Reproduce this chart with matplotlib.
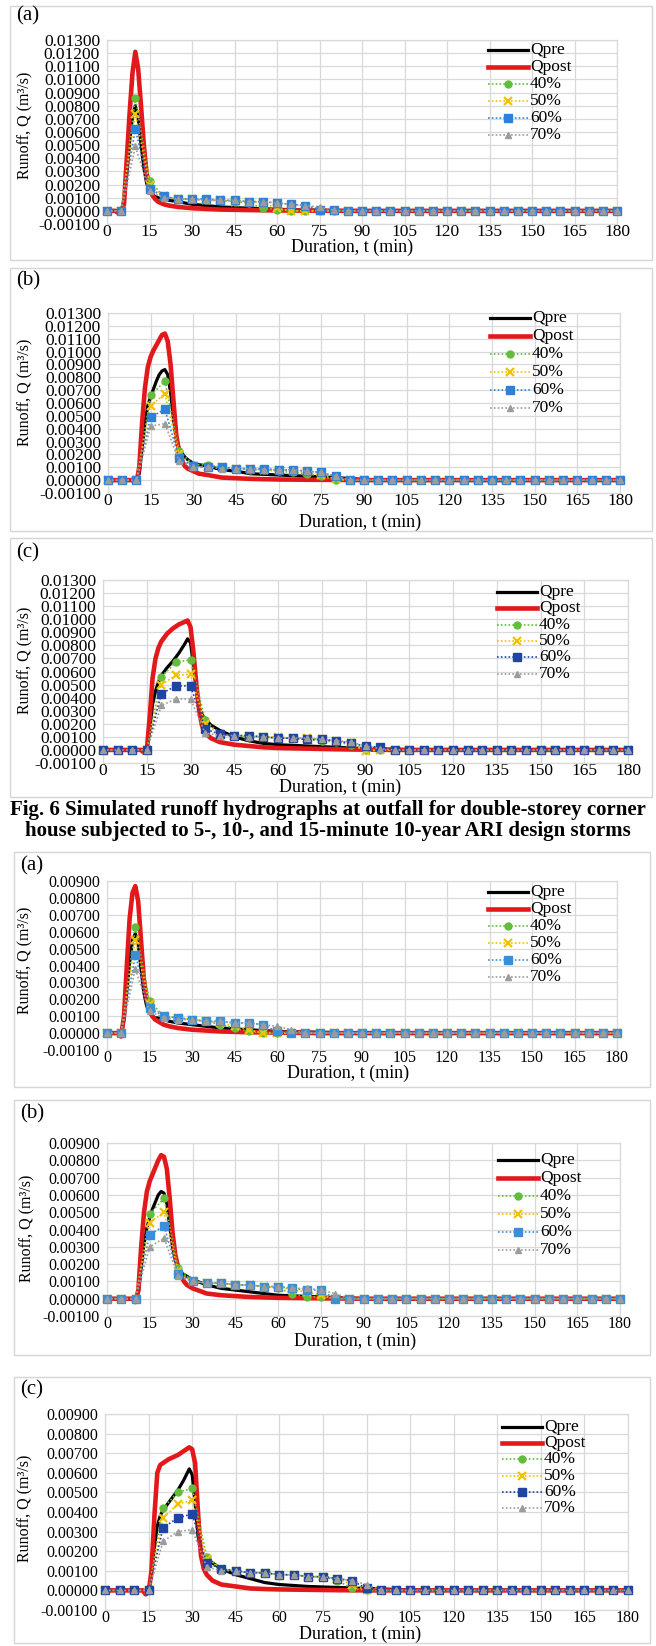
import matplotlib
matplotlib.use("Agg")
import matplotlib.pyplot as plt
from matplotlib.lines import Line2D
from matplotlib.patches import Rectangle

plt.rcParams["font.family"] = ["Liberation Serif", "DejaVu Serif"]

W, H = 656, 1646
RED = "#e3181b"
GRID = "#d9d9d9"

# marker times for the percentage series (every 5 min)
t5 = list(range(0, 181, 5))

# ---------------- Fig. 6 (a): 5-minute storm ----------------
ta_t = [0, 3, 4, 5, 6, 7, 8, 9, 10, 11, 12, 13, 14, 15, 16, 17, 18, 20, 22,
        25, 30, 35, 40, 45, 50, 60, 70, 80, 90, 120, 180]
ta_qpost = [0, 0, -0.0002, -0.0001, 0.0005, 0.0040, 0.0075, 0.0105, 0.0121,
            0.0108, 0.0080, 0.0050, 0.0028, 0.0017, 0.0012, 0.0009, 0.0007,
            0.0005, 0.0004, 0.0003, 0.0002, 0.00015, 0.0001, 0.00008, 0.00006,
            0.00003, 0.00002, 0.00001, 0, 0, 0]
ta_qpre = [0, 0, 0, 0, 0.0008, 0.0028, 0.0053, 0.0072, 0.0080, 0.0071, 0.0051,
           0.0033, 0.0021, 0.0015, 0.0012, 0.0011, 0.0010, 0.0009, 0.0008,
           0.0007, 0.0005, 0.0004, 0.0003, 0.00025, 0.0002, 0.00012, 0.00006,
           0.00003, 0.00001, 0, 0]
ta_p40 = [0, 0, 0.0086, 0.0023, 0.0011, 0.0009, 0.0009, 0.0008, 0.0008, 0.0007,
          0.0006, 0.0002, 0.0001, 0, 0, 0, 0, 0, 0,
          0, 0, 0, 0, 0, 0, 0, 0, 0, 0, 0, 0, 0, 0, 0, 0, 0, 0]
ta_p50 = [0, 0, 0.0074, 0.0020, 0.0011, 0.0009, 0.0009, 0.0008, 0.0008, 0.0007,
          0.0007, 0.0006, 0.0002, 0, 0, 0, 0, 0, 0,
          0, 0, 0, 0, 0, 0, 0, 0, 0, 0, 0, 0, 0, 0, 0, 0, 0, 0]
ta_p60 = [0, 0, 0.0062, 0.0017, 0.0011, 0.0009, 0.0009, 0.0009, 0.0008, 0.0008,
          0.0007, 0.0007, 0.0006, 0.0005, 0.0004, 0.0001, 0.00005, 0, 0,
          0, 0, 0, 0, 0, 0, 0, 0, 0, 0, 0, 0, 0, 0, 0, 0, 0, 0]
ta_p70 = [0, 0, 0.0049, 0.0015, 0.0010, 0.0009, 0.0009, 0.0008, 0.0008, 0.0008,
          0.0007, 0.0007, 0.0006, 0.0005, 0.0004, 0.0003, 0.00005, 0, 0,
          0, 0, 0, 0, 0, 0, 0, 0, 0, 0, 0, 0, 0, 0, 0, 0, 0, 0]

# ---------------- Fig. 6 (b): 10-minute storm ----------------
tb_t = [0, 9, 10, 11, 12, 13, 14, 15, 16, 17, 18, 19, 20, 21, 22, 23, 24, 25,
        26, 27, 28, 30, 32, 35, 40, 45, 50, 60, 70, 80, 90, 100, 180]
tb_qpost = [0, 0, -0.0002, 0.0010, 0.0045, 0.0072, 0.0088, 0.0096, 0.0101,
            0.0105, 0.0109, 0.0113, 0.0114, 0.0108, 0.0090, 0.0062, 0.0035,
            0.0022, 0.0015, 0.0011, 0.0009, 0.0007, 0.0005, 0.0004, 0.0002,
            0.00015, 0.0001, 0.00005, 0.00003, 0.00002, 0, 0, 0]
tb_qpre = [0, 0, 0, 0.0005, 0.0025, 0.0045, 0.0058, 0.0065, 0.0071, 0.0077,
           0.0082, 0.0085, 0.0086, 0.0082, 0.0068, 0.0048, 0.0032, 0.0025,
           0.0021, 0.0018, 0.0016, 0.0013, 0.0012, 0.0011, 0.0008, 0.0007,
           0.0005, 0.0004, 0.0003, 0.0002, 0.00005, 0, 0]
tb_p40 = [0, 0, 0, 0.0066, 0.0077, 0.0023, 0.0012, 0.0012, 0.0010, 0.0009,
          0.0008, 0.0008, 0.0007, 0.0006, 0.0005, 0.0003, 0, 0, 0,
          0, 0, 0, 0, 0, 0, 0, 0, 0, 0, 0, 0, 0, 0, 0, 0, 0, 0]
tb_p50 = [0, 0, 0, 0.0058, 0.0067, 0.0020, 0.0011, 0.0010, 0.0010, 0.0009,
          0.0009, 0.0008, 0.0008, 0.0007, 0.0006, 0.0004, 0.0001, 0, 0,
          0, 0, 0, 0, 0, 0, 0, 0, 0, 0, 0, 0, 0, 0, 0, 0, 0, 0]
tb_p60 = [0, 0, 0, 0.0049, 0.0055, 0.0017, 0.0011, 0.0010, 0.0010, 0.0009,
          0.0009, 0.0009, 0.0008, 0.0008, 0.0007, 0.0006, 0.0003, 0, 0,
          0, 0, 0, 0, 0, 0, 0, 0, 0, 0, 0, 0, 0, 0, 0, 0, 0, 0]
tb_p70 = [0, 0, 0, 0.0042, 0.0044, 0.0015, 0.0010, 0.0010, 0.0009, 0.0009,
          0.0009, 0.0008, 0.0008, 0.0008, 0.0007, 0.0006, 0.0003, 0, 0,
          0, 0, 0, 0, 0, 0, 0, 0, 0, 0, 0, 0, 0, 0, 0, 0, 0, 0]

# ---------------- Fig. 6 (c): 15-minute storm ----------------
tc_t = [0, 13, 14, 15, 16, 17, 18, 19, 20, 22, 24, 26, 28, 29, 30, 31, 32, 33,
        34, 35, 37, 40, 45, 50, 55, 60, 70, 80, 90, 100, 110, 180]
tc_qpost = [0, 0, -0.0002, -0.0001, 0.0025, 0.0055, 0.0070, 0.0078, 0.0083,
            0.0089, 0.0093, 0.0096, 0.0098, 0.0099, 0.0094, 0.0075, 0.0050,
            0.0030, 0.0018, 0.0013, 0.0009, 0.0006, 0.0004, 0.0003, 0.0002,
            0.00015, 0.0001, 0.00005, 0.00002, 0, 0, 0]
tc_qpre = [0, 0, 0, 0, 0.0015, 0.0035, 0.0045, 0.0052, 0.0057, 0.0063, 0.0068,
           0.0074, 0.0081, 0.0085, 0.0082, 0.0065, 0.0045, 0.0032, 0.0027,
           0.0024, 0.0019, 0.0015, 0.0010, 0.0007, 0.0005, 0.0004, 0.0003,
           0.0002, 0.0001, 0.00005, 0, 0]
tc_p40 = [0, 0, 0, 0, 0.0056, 0.0067, 0.0069, 0.0023, 0.0012, 0.0011, 0.0010,
          0.0010, 0.0009, 0.0009, 0.0008, 0.0007, 0.0006, 0.0004, 0,
          0, 0, 0, 0, 0, 0, 0, 0, 0, 0, 0, 0, 0, 0, 0, 0, 0, 0]
tc_p50 = [0, 0, 0, 0, 0.0050, 0.0057, 0.0058, 0.0020, 0.0012, 0.0011, 0.0011,
          0.0010, 0.0010, 0.0009, 0.0009, 0.0008, 0.0007, 0.0005, -0.0001,
          0, 0, 0, 0, 0, 0, 0, 0, 0, 0, 0, 0, 0, 0, 0, 0, 0, 0]
tc_p60 = [0, 0, 0, 0, 0.0043, 0.0049, 0.0049, 0.0016, 0.0012, 0.0011, 0.0011,
          0.0010, 0.0009, 0.0009, 0.0008, 0.0008, 0.0007, 0.0005, 0.0003,
          0.0002, 0, 0, 0, 0, 0, 0, 0, 0, 0, 0, 0, 0, 0, 0, 0, 0, 0]
tc_p70 = [0, 0, 0, 0, 0.0034, 0.0039, 0.0039, 0.0013, 0.0011, 0.0011, 0.0010,
          0.0010, 0.0009, 0.0009, 0.0009, 0.0008, 0.0007, 0.0006, 0.0003,
          0.0001, 0, 0, 0, 0, 0, 0, 0, 0, 0, 0, 0, 0, 0, 0, 0, 0, 0]

# ---------------- second house (a): 5-minute storm ----------------
da_t = [0, 4, 5, 6, 7, 8, 9, 10, 11, 12, 13, 14, 15, 16, 17, 18, 20, 22, 25,
        30, 35, 40, 50, 60, 75, 90, 180]
da_qpost = [0, 0, -0.0002, 0.0010, 0.0040, 0.0068, 0.0083, 0.0087, 0.0078,
            0.0055, 0.0032, 0.0020, 0.0014, 0.0010, 0.0008, 0.0007, 0.0005,
            0.0004, 0.0003, 0.0002, 0.00015, 0.0001, 0.00005, 0.00003, 0, 0, 0]
da_qpre = [0, 0, 0, 0.0008, 0.0025, 0.0042, 0.0055, 0.0059, 0.0053, 0.0038,
           0.0024, 0.0016, 0.0012, 0.0010, 0.0009, 0.0009, 0.0008, 0.0007,
           0.0006, 0.0005, 0.0004, 0.0003, 0.0002, 0.0001, 0.00005, 0, 0]
da_p40 = [0, 0, 0.0063, 0.0019, 0.0010, 0.0009, 0.0008, 0.0007, 0.0005, 0.0003,
          0.0001, 0, 0, 0, 0, 0, 0, 0, 0,
          0, 0, 0, 0, 0, 0, 0, 0, 0, 0, 0, 0, 0, 0, 0, 0, 0, 0]
da_p50 = [0, 0, 0.0055, 0.0017, 0.0010, 0.0009, 0.0008, 0.0007, 0.0006, 0.0004,
          0.0002, 0, 0, 0, 0, 0, 0, 0, 0,
          0, 0, 0, 0, 0, 0, 0, 0, 0, 0, 0, 0, 0, 0, 0, 0, 0, 0]
da_p60 = [0, 0, 0.0046, 0.0015, 0.0010, 0.0009, 0.0008, 0.0007, 0.0007, 0.0006,
          0.0006, 0.0005, 0.0001, 0, 0, 0, 0, 0, 0,
          0, 0, 0, 0, 0, 0, 0, 0, 0, 0, 0, 0, 0, 0, 0, 0, 0, 0]
da_p70 = [0, 0, 0.0038, 0.0013, 0.0009, 0.0008, 0.0008, 0.0007, 0.0007, 0.0006,
          0.0006, 0.0005, 0.0004, 0.0002, 0, 0, 0, 0, 0,
          0, 0, 0, 0, 0, 0, 0, 0, 0, 0, 0, 0, 0, 0, 0, 0, 0, 0]

# ---------------- second house (b): 10-minute storm ----------------
db_t = [0, 9, 10, 11, 12, 13, 14, 15, 16, 17, 18, 19, 20, 21, 22, 23, 24, 25,
        26, 27, 28, 30, 35, 40, 45, 50, 60, 75, 90, 180]
db_qpost = [0, 0, -0.0002, 0.0005, 0.0030, 0.0050, 0.0062, 0.0068, 0.0072,
            0.0076, 0.0080, 0.0083, 0.0082, 0.0075, 0.0058, 0.0038, 0.0025,
            0.0018, 0.0013, 0.0010, 0.0008, 0.0006, 0.0003, 0.0002, 0.00015,
            0.0001, 0.00005, 0.00002, 0, 0]
db_qpre = [0, 0, 0, 0.0003, 0.0018, 0.0032, 0.0041, 0.0047, 0.0052, 0.0056,
           0.0060, 0.0062, 0.0061, 0.0055, 0.0042, 0.0030, 0.0022, 0.0018,
           0.0015, 0.0014, 0.0013, 0.0011, 0.0008, 0.0006, 0.0005, 0.0004,
           0.0002, 0.0001, 0, 0]
db_p40 = [0, 0, 0, 0.0049, 0.0058, 0.0018, 0.0010, 0.0009, 0.0009, 0.0008,
          0.0008, 0.0007, 0.0006, 0.0003, 0.0001, 0.0001, 0, 0, 0,
          0, 0, 0, 0, 0, 0, 0, 0, 0, 0, 0, 0, 0, 0, 0, 0, 0, 0]
db_p50 = [0, 0, 0, 0.0044, 0.0050, 0.0016, 0.0010, 0.0009, 0.0009, 0.0008,
          0.0008, 0.0007, 0.0007, 0.0005, 0.0004, 0.0002, 0, 0, 0,
          0, 0, 0, 0, 0, 0, 0, 0, 0, 0, 0, 0, 0, 0, 0, 0, 0, 0]
db_p60 = [0, 0, 0, 0.0037, 0.0042, 0.0014, 0.0010, 0.0009, 0.0009, 0.0008,
          0.0008, 0.0007, 0.0007, 0.0006, 0.0005, 0.0005, 0, 0, 0,
          0, 0, 0, 0, 0, 0, 0, 0, 0, 0, 0, 0, 0, 0, 0, 0, 0, 0]
db_p70 = [0, 0, 0, 0.0030, 0.0035, 0.0013, 0.0010, 0.0009, 0.0009, 0.0008,
          0.0008, 0.0007, 0.0007, 0.0006, 0.0006, 0.0005, 0.0003, 0, 0,
          0, 0, 0, 0, 0, 0, 0, 0, 0, 0, 0, 0, 0, 0, 0, 0, 0, 0]

# ---------------- second house (c): 15-minute storm ----------------
dc_t = [0, 13, 14, 15, 16, 17, 18, 19, 20, 22, 25, 27, 28, 29, 30, 31, 32, 33,
        34, 35, 37, 40, 45, 50, 55, 60, 70, 80, 90, 100, 110, 180]
dc_qpost = [0, 0, -0.0002, -0.0001, 0.0010, 0.0038, 0.0060, 0.0064, 0.0065,
            0.0067, 0.0069, 0.0071, 0.0072, 0.0073, 0.0072, 0.0065, 0.0040,
            0.0018, 0.0011, 0.0008, 0.0005, 0.0003, 0.0002, 0.0001, 0.00007,
            0.00005, 0.00003, 0.00001, 0, 0, 0, 0]
dc_qpre = [0, 0, 0, 0, 0.0008, 0.0022, 0.0033, 0.0038, 0.0041, 0.0045, 0.0051,
           0.0056, 0.0059, 0.0062, 0.0059, 0.0045, 0.0028, 0.0020, 0.0017,
           0.0016, 0.0014, 0.0011, 0.0008, 0.0006, 0.0004, 0.0003, 0.0002,
           0.00015, 0.0001, 0.00005, 0, 0]
dc_p40 = [0, 0, 0, 0, 0.0042, 0.0050, 0.0052, 0.0017, 0.0011, 0.0010, 0.0009,
          0.0009, 0.0008, 0.0008, 0.0007, 0.0007, 0.0005, 0.0001, 0,
          0, 0, 0, 0, 0, 0, 0, 0, 0, 0, 0, 0, 0, 0, 0, 0, 0, 0]
dc_p50 = [0, 0, 0, 0, 0.0037, 0.0044, 0.0046, 0.0016, 0.0011, 0.0010, 0.0009,
          0.0009, 0.0008, 0.0008, 0.0007, 0.0007, 0.0006, 0.0003, 0,
          0, 0, 0, 0, 0, 0, 0, 0, 0, 0, 0, 0, 0, 0, 0, 0, 0, 0]
dc_p60 = [0, 0, 0, 0, 0.0032, 0.0037, 0.0039, 0.0014, 0.0011, 0.0010, 0.0009,
          0.0009, 0.0008, 0.0008, 0.0007, 0.0007, 0.0006, 0.0005, 0.0001,
          0, 0, 0, 0, 0, 0, 0, 0, 0, 0, 0, 0, 0, 0, 0, 0, 0, 0]
dc_p70 = [0, 0, 0, 0, 0.0025, 0.0030, 0.0031, 0.0012, 0.0010, 0.0010, 0.0009,
          0.0009, 0.0008, 0.0008, 0.0007, 0.0007, 0.0006, 0.0005, 0.0003,
          0, 0, 0, 0, 0, 0, 0, 0, 0, 0, 0, 0, 0, 0, 0, 0, 0, 0]

labels = ["Qpre", "Qpost", "40%", "50%", "60%", "70%"]
x_ticks = list(range(0, 181, 15))

# layout in pixels: frame box, axes box (left, top, right, bottom), tag,
# legend origin + row step, y-label and x-label centres, font sizes
layout = [
    dict(frame=(10, 6, 652, 260), axes=(107, 40, 617, 224), ymax=13, tag="(a)",
         tag_xy=(16, 16), leg=(488, 50, 17.0), ylab=(25, 125), xlab=(352, 247),
         fs=12.5, lfs=12.5, blue="#2f80d8"),
    dict(frame=(10, 268, 652, 531), axes=(108, 313, 620, 493), ymax=13, tag="(b)",
         tag_xy=(16, 281), leg=(490, 318, 18.0), ylab=(25, 392), xlab=(360, 522),
         fs=12.5, lfs=12.5, blue="#2f80d8"),
    dict(frame=(10, 538, 652, 797), axes=(103, 580, 628, 763), ymax=13, tag="(c)",
         tag_xy=(16, 553), leg=(497, 592, 16.3), ylab=(25, 660), xlab=(340, 787),
         fs=12.5, lfs=12.5, blue="#1f44a3"),
    dict(frame=(14, 852, 650, 1087), axes=(107, 881, 617, 1050), ymax=9, tag="(a)",
         tag_xy=(20, 866), leg=(488, 892, 17.0), ylab=(25, 960), xlab=(348, 1073),
         fs=11.5, lfs=12.5, blue="#3a8fd8"),
    dict(frame=(14, 1100, 650, 1355), axes=(107, 1143, 620, 1316), ymax=9, tag="(b)",
         tag_xy=(20, 1114), leg=(498, 1160, 18.0), ylab=(27, 1228), xlab=(355, 1341),
         fs=11.5, lfs=12.5, blue="#3a8fd8"),
    dict(frame=(14, 1377, 650, 1643), axes=(105, 1414, 628, 1610), ymax=9, tag="(c)",
         tag_xy=(20, 1390), leg=(502, 1427, 16.2), ylab=(25, 1508), xlab=(360, 1634),
         fs=11.5, lfs=12.5, blue="#1f44a3"),
]

series = [
    (ta_t, ta_qpre, ta_qpost, [ta_p40, ta_p50, ta_p60, ta_p70]),
    (tb_t, tb_qpre, tb_qpost, [tb_p40, tb_p50, tb_p60, tb_p70]),
    (tc_t, tc_qpre, tc_qpost, [tc_p40, tc_p50, tc_p60, tc_p70]),
    (da_t, da_qpre, da_qpost, [da_p40, da_p50, da_p60, da_p70]),
    (db_t, db_qpre, db_qpost, [db_p40, db_p50, db_p60, db_p70]),
    (dc_t, dc_qpre, dc_qpost, [dc_p40, dc_p50, dc_p60, dc_p70]),
]


def fx(x):
    return x / W


def fy(y):
    return 1 - y / H


def pct_styles(blue):
    dots = (0, (1, 1.3))
    return [
        dict(color="#62bd3c", marker="o", ms=5, ls=dots, lw=1.2),
        dict(color="#f2c200", marker="x", ms=5.5, mew=1.6, ls=dots, lw=1.2),
        dict(color=blue, marker="s", ms=5.5, ls=dots, lw=1.2),
        dict(color="#9c9c9c", marker="^", ms=5, ls=dots, lw=1.2),
    ]


fig = plt.figure(figsize=(W / 100, H / 100), dpi=100)
fig.patch.set_facecolor("white")

for lay, (t_q, qpre, qpost, pcts) in zip(layout, series):
    fs = lay["fs"]
    x0, y0, x1, y1 = lay["frame"]
    fig.add_artist(Rectangle((fx(x0), fy(y1)), fx(x1 - x0), (y1 - y0) / H,
                             transform=fig.transFigure, fill=False,
                             edgecolor="#d6d6d6", lw=1.0))

    l, t, r, b = lay["axes"]
    ax = fig.add_axes([fx(l), fy(b), fx(r - l), (b - t) / H])
    ymax = lay["ymax"]
    styles = pct_styles(lay["blue"])

    ax.plot(t_q, qpre, color="black", lw=2.3, solid_joinstyle="round", zorder=3)
    ax.plot(t_q, qpost, color=RED, lw=3.3, solid_joinstyle="round", zorder=3)
    for vals, st in zip(pcts, styles):
        ax.plot(t5, vals, clip_on=False, zorder=4, **st)

    yt = [i / 1000 for i in range(-1, ymax + 1)]
    ax.set_xlim(0, 180)
    ax.set_ylim(-0.001, ymax / 1000)
    ax.set_yticks(yt)
    ax.set_yticklabels([f"{v:.5f}" for v in yt])
    ax.set_xticks(x_ticks)
    ax.grid(True, color=GRID, lw=0.9)
    ax.set_axisbelow(True)
    for sp in ax.spines.values():
        sp.set_color(GRID)
        sp.set_linewidth(0.9)
    ax.tick_params(axis="both", length=0, labelsize=fs)
    ax.tick_params(axis="y", pad=5)
    ax.tick_params(axis="x", pad=0)

    fig.text(fx(lay["tag_xy"][0]), fy(lay["tag_xy"][1]), lay["tag"],
             fontsize=15, ha="left", va="center")
    fig.text(fx(lay["ylab"][0]), fy(lay["ylab"][1]), "Runoff, Q (m³/s)",
             rotation=90, fontsize=11.5, ha="center", va="center")
    fig.text(fx(lay["xlab"][0]), fy(lay["xlab"][1]), "Duration, t (min)",
             fontsize=13, ha="center", va="center")

    # legend drawn by hand so the rows can sit as tight as in the chart
    lx, ly, dy = lay["leg"]
    handles = [dict(color="black", lw=2.3), dict(color=RED, lw=3.3)] + styles
    for i, (lab, st) in enumerate(zip(labels, handles)):
        yy = fy(ly + i * dy)
        line_kw = {k: v for k, v in st.items() if k not in ("marker", "ms", "mew")}
        fig.add_artist(Line2D([fx(lx), fx(lx + 40)], [yy, yy], **line_kw))
        if "marker" in st:
            fig.add_artist(Line2D([fx(lx + 20)], [yy], color=st["color"],
                                  marker=st["marker"], ms=st["ms"],
                                  mew=st.get("mew", 1.0), ls="none"))
        fig.text(fx(lx + 42), yy, lab, fontsize=lay["lfs"], ha="left", va="center")

# caption between the two groups of panels
fig.text(0.5, fy(810), "Fig. 6 Simulated runoff hydrographs at outfall for double-storey corner",
         fontsize=15.0, fontweight="bold", ha="center", va="center")
fig.text(0.5, fy(831), "house subjected to 5-, 10-, and 15-minute 10-year ARI design storms",
         fontsize=15.0, fontweight="bold", ha="center", va="center")

fig.savefig("out.png", dpi=100, facecolor="white")
